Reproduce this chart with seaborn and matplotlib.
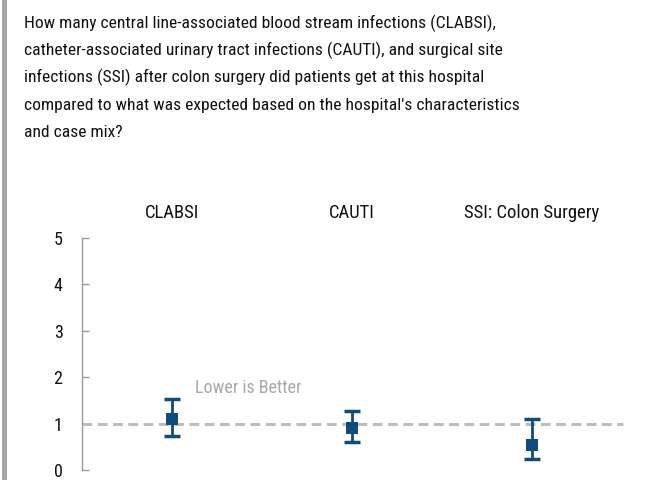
import matplotlib
matplotlib.use('Agg')
import matplotlib.pyplot as plt
import seaborn as sns
import pandas as pd
from matplotlib.patches import Rectangle

QUESTION_LINES = [
    "How many central line-associated blood stream infections (CLABSI),",
    "catheter-associated urinary tract infections (CAUTI), and surgical site",
    "infections (SSI) after colon surgery did patients get at this hospital",
    "compared to what was expected based on the hospital's characteristics",
    "and case mix?",
]

measures = ["CLABSI", "CAUTI", "SSI: Colon Surgery"]
sir = [1.09, 0.90, 0.54]
lower = [0.73, 0.60, 0.23]
upper = [1.54, 1.27, 1.10]
y_ticks = [0, 1, 2, 3, 4, 5]
benchmark = 1.0

BLUE = '#0f4c7d'
GREY = '#bdbdbd'

df = pd.DataFrame({'measure': measures, 'sir': sir, 'lower': lower, 'upper': upper})
df['pos'] = range(len(df))

sns.set_style('white')
plt.rcParams['font.family'] = ['Roboto Condensed', 'Archivo Narrow', 'Liberation Sans', 'DejaVu Sans']

W, H = 652, 480
fig = plt.figure(figsize=(W / 100, H / 100), dpi=100)
ax = fig.add_axes([0.1258, 0.0208, 0.8558, 0.4833])

# left border bar
fig.patches.append(Rectangle((0.003, 0), 0.007, 1, transform=fig.transFigure,
                             facecolor='#a6a6a6', edgecolor='none'))

# question text, one line at a time so the spacing stays even
for i, line in enumerate(QUESTION_LINES):
    base_px = 28 + i * 27.3
    fig.text(24 / W, 1 - base_px / H, line, fontsize=12.6, va='baseline', ha='left',
             color='#111111')

ax.plot([-0.5, 2.505], [benchmark, benchmark], color=GREY, lw=2.2,
        ls=(0, (3.2, 1.8)), zorder=1)

ax.errorbar(df['pos'], df['sir'],
            yerr=[df['sir'] - df['lower'], df['upper'] - df['sir']],
            fmt='none', ecolor=BLUE, elinewidth=2, capsize=5.5, capthick=2.5, zorder=2)
sns.scatterplot(data=df, x='pos', y='sir', marker='s', s=85, color=BLUE,
                edgecolor=BLUE, linewidth=0, ax=ax, zorder=3)

for i, name in enumerate(measures):
    ax.text(i, 5.55, name, ha='center', va='center', fontsize=13.4, color='#111111')

ax.text(0.13, 1.76, 'Lower is Better', ha='left', va='center', fontsize=13, color='#a8a8a8')

ax.set_xlim(-0.5, 2.6)
ax.set_ylim(0, 5)
ax.set_yticks(y_ticks)
ax.set_yticklabels([str(t) for t in y_ticks], fontsize=13, color='#111111')
ax.set_xticks([])
ax.set_xlabel('')
ax.set_ylabel('')
for s in ['top', 'right', 'bottom']:
    ax.spines[s].set_visible(False)
ax.spines['left'].set_color('#999999')
ax.spines['left'].set_linewidth(1)
ax.tick_params(axis='y', direction='in', length=5, width=1, color='#999999', pad=14, left=True)
ax.patch.set_alpha(0)

fig.savefig('out.png', dpi=100)
